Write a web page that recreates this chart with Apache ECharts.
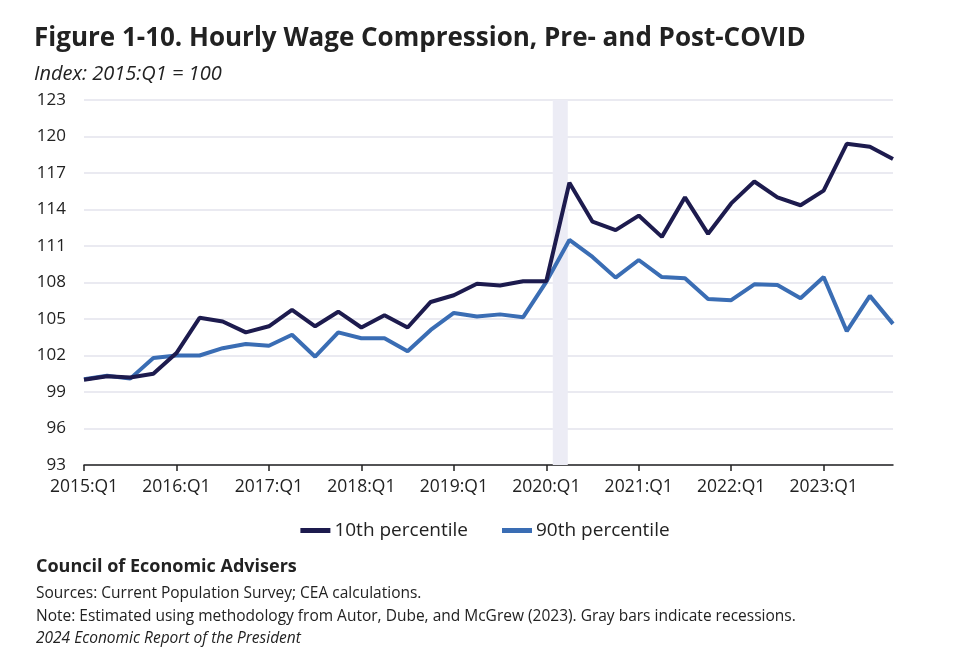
<!DOCTYPE html>
<html><head><meta charset="utf-8">
<script src="https://cdn.jsdelivr.net/npm/echarts@6/dist/echarts.min.js"></script>
<style>html,body{margin:0;padding:0;background:#fff}#c{width:970px;height:672px}</style>
</head><body><div id="c"></div>
<script>
const categories = ['2015:Q1','2015:Q2','2015:Q3','2015:Q4','2016:Q1','2016:Q2','2016:Q3','2016:Q4',
'2017:Q1','2017:Q2','2017:Q3','2017:Q4','2018:Q1','2018:Q2','2018:Q3','2018:Q4',
'2019:Q1','2019:Q2','2019:Q3','2019:Q4','2020:Q1','2020:Q2','2020:Q3','2020:Q4',
'2021:Q1','2021:Q2','2021:Q3','2021:Q4','2022:Q1','2022:Q2','2022:Q3','2022:Q4',
'2023:Q1','2023:Q2','2023:Q3','2023:Q4'];
const p10 = [100.0,100.3,100.2,100.5,102.2,105.1,104.8,103.9,104.4,105.75,104.4,105.6,
104.3,105.3,104.3,106.4,106.95,107.9,107.75,108.1,108.1,116.2,113.0,112.3,
113.5,111.75,115.0,112.0,114.5,116.3,115.0,114.35,115.55,119.4,119.15,118.15];
const p90 = [100.05,100.33,100.1,101.8,102.0,102.0,102.6,102.95,102.8,103.7,101.9,103.9,
103.42,103.42,102.35,104.1,105.5,105.2,105.38,105.15,108.05,111.5,110.1,108.4,
109.85,108.45,108.35,106.65,106.55,107.85,107.8,106.7,108.45,104.0,106.9,104.6];
const yTicks = [93,96,99,102,105,108,111,114,117,120,123];
const recession = [20.28, 20.93];
const labelIdx = [0,4,8,12,16,20,24,28,32];

const toPairs = a => a.map((v,i)=>[i,v]);
const chart = echarts.init(document.getElementById('c'), null, {renderer:'canvas'});
const font = "'Open Sans','Noto Sans',sans-serif";
chart.setOption({
  animation:false,
  textStyle:{fontFamily:font},
  title:[
    {text:'Figure 1-10. Hourly Wage Compression, Pre- and Post-COVID', left:29, top:21,
     textStyle:{fontFamily:font,fontSize:26,fontWeight:'bold',color:'#222'}},
    {text:'Index: 2015:Q1 = 100', left:29, top:59,
     textStyle:{fontFamily:font,fontSize:20,fontStyle:'italic',fontWeight:'normal',color:'#222'}},
    {text:'Council of Economic Advisers', left:31, top:553,
     textStyle:{fontFamily:font,fontSize:18,fontWeight:'bold',color:'#222'}},
    {text:'Sources: Current Population Survey; CEA calculations.', left:31, top:581,
     textStyle:{fontFamily:font,fontSize:15.5,fontWeight:'normal',color:'#222'}},
    {text:'Note: Estimated using methodology from Autor, Dube, and McGrew (2023). Gray bars indicate recessions.', left:31, top:604,
     textStyle:{fontFamily:font,fontSize:15.5,fontWeight:'normal',color:'#222'}},
    {text:'2024 Economic Report of the President', left:31, top:626,
     textStyle:{fontFamily:font,fontSize:15.5,fontStyle:'italic',fontWeight:'normal',color:'#222'}}
  ],
  grid:{left:84, right:77, top:100, bottom:207, containLabel:false},
  legend:{
    top:516, left:'center', itemGap:34, itemWidth:30, itemHeight:5,
    textStyle:{fontFamily:font,fontSize:19,color:'#222',padding:[0,0,0,-1]},
    data:[{name:'10th percentile',icon:'rect'},{name:'90th percentile',icon:'rect'}]
  },
  xAxis:{
    type:'value', min:0, max:categories.length-1,
    splitLine:{show:false},
    axisLine:{show:true,lineStyle:{color:'#222',width:1.5}},
    axisTick:{show:true,length:6,lineStyle:{color:'#222',width:1.5},customValues:labelIdx},
    axisLabel:{customValues:labelIdx, formatter:v=>categories[v]||'', fontSize:17.5, color:'#222', margin:13, fontFamily:font}
  },
  yAxis:{
    type:'value', min:yTicks[0], max:yTicks[yTicks.length-1], interval:3,
    axisLine:{show:false}, axisTick:{show:false},
    splitLine:{lineStyle:{color:'#e3e3ec',width:1.5}},
    axisLabel:{fontSize:17,color:'#222',margin:18,fontFamily:font}
  },
  series:[
    {name:'10th percentile', type:'line', data:toPairs(p10), showSymbol:false, z:3,
     lineStyle:{width:4,color:'#1d1b4e'}, itemStyle:{color:'#1d1b4e'},
     markArea:{silent:true, itemStyle:{color:'#ececf5'}, data:[[{xAxis:recession[0]},{xAxis:recession[1]}]]}},
    {name:'90th percentile', type:'line', data:toPairs(p90), showSymbol:false, z:2,
     lineStyle:{width:4,color:'#3a6db4'}, itemStyle:{color:'#3a6db4'}}
  ]
});
</script></body></html>
